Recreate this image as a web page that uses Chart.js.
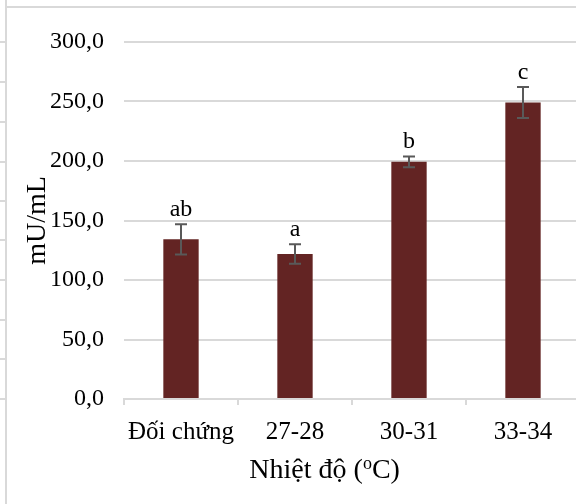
<!DOCTYPE html>
<html>
<head>
<meta charset="utf-8">
<script src="https://cdn.jsdelivr.net/npm/chart.js@4.4.1/dist/chart.umd.min.js"></script>
<style>
  html, body { margin: 0; padding: 0; background: #fff; overflow: hidden; }
  #wrap { position: relative; width: 576px; height: 504px; overflow: hidden; }
  #frameLeft { position: absolute; left: 5px; top: 0; width: 2px; height: 504px; background: #d9d9d9; }
  #frameTop { position: absolute; left: 5px; top: 6px; width: 571px; height: 2px; background: #d9d9d9; }
  .stub { position: absolute; left: 0; width: 5px; height: 2px; background: #d9d9d9; }
  canvas { position: absolute; left: 0; top: 0; }
</style>
</head>
<body>
<div id="wrap">
  <div id="frameLeft"></div>
  <div id="frameTop"></div>
  <canvas id="chart" width="582" height="504"></canvas>
</div>
<script>
// data
const categories = ["Đối chứng", "27-28", "30-31", "33-34"];
const activity = [134.2, 121.8, 199.3, 249.2];   // mU/mL
const stdError = [12.7, 8.2, 4.5, 13.0];
const groupLetters = ["ab", "a", "b", "c"];
const yMin = 0;
const yMax = 300;
const yStep = 50;

const serif = "'Liberation Serif', 'Times New Roman', serif";

// the little row marks on the left of the sheet frame
const stubRows = [41, 81, 121, 161, 200, 239, 279, 319, 358, 398];
stubRows.forEach((top) => {
  const d = document.createElement("div");
  d.className = "stub";
  d.style.top = top + "px";
  document.getElementById("wrap").appendChild(d);
});

// error bars + significance letters
const errorBarPlugin = {
  id: "errorBars",
  afterDatasetsDraw(chart) {
    const { ctx, scales: { x, y } } = chart;
    ctx.save();
    ctx.strokeStyle = "#595959";
    ctx.lineWidth = 2;
    activity.forEach((v, i) => {
      const px = Math.round(x.getPixelForValue(i));
      const top = y.getPixelForValue(v + stdError[i]);
      const bot = y.getPixelForValue(v - stdError[i]);
      ctx.beginPath();
      ctx.moveTo(px, top);
      ctx.lineTo(px, bot);
      ctx.moveTo(px - 6, top);
      ctx.lineTo(px + 6, top);
      ctx.moveTo(px - 6, bot);
      ctx.lineTo(px + 6, bot);
      ctx.stroke();

      ctx.fillStyle = "#000";
      ctx.font = "24px " + serif;
      ctx.textAlign = "center";
      ctx.textBaseline = "alphabetic";
      ctx.fillText(groupLetters[i], px, top - 8);
    });
    ctx.restore();
  },
};

// x axis title with a raised "o"
const xTitlePlugin = {
  id: "xTitle",
  afterDraw(chart) {
    const { ctx, scales: { x } } = chart;
    const big = "28px " + serif;
    const small = "18px " + serif;
    const partA = "Nhiệt độ (";
    const partB = "o";
    const partC = "C)";
    ctx.save();
    ctx.fillStyle = "#000";
    ctx.textBaseline = "alphabetic";
    ctx.textAlign = "left";
    ctx.font = big;
    const wA = ctx.measureText(partA).width;
    const wC = ctx.measureText(partC).width;
    ctx.font = small;
    const wB = ctx.measureText(partB).width;
    const total = wA + wB + wC;
    const cx = x.left + (x.right - x.left) * 0.44;
    const baseY = 478;
    let px = cx - total / 2;
    ctx.font = big;
    ctx.fillText(partA, px, baseY);
    px += wA;
    ctx.font = small;
    ctx.fillText(partB, px, baseY - 9);
    px += wB;
    ctx.font = big;
    ctx.fillText(partC, px, baseY);
    ctx.restore();
  },
};

new Chart(document.getElementById("chart"), {
  type: "bar",
  data: {
    labels: categories,
    datasets: [
      {
        data: activity,
        backgroundColor: "#632423",
        borderWidth: 0,
        categoryPercentage: 1,
        barPercentage: 0.31,
      },
    ],
  },
  options: {
    responsive: false,
    animation: false,
    layout: { padding: { top: 42, right: 2, bottom: 0, left: 0 } },
    plugins: { legend: { display: false }, tooltip: { enabled: false } },
    scales: {
      x: {
        grid: {
          display: true,
          drawOnChartArea: false,
          drawTicks: true,
          tickLength: 6,
          color: "#d9d9d9",
          lineWidth: 2,
        },
        border: { display: true, color: "#d9d9d9", width: 2 },
        ticks: { color: "#000", font: { family: serif, size: 25 }, padding: 12 },
        afterFit(scale) {
          scale.height = 105;
        },
      },
      y: {
        min: yMin,
        max: yMax,
        ticks: {
          stepSize: yStep,
          color: "#000",
          font: { family: serif, size: 24 },
          padding: 20,
          callback: (v) => v.toFixed(1).replace(".", ","),
        },
        grid: { color: "#d9d9d9", lineWidth: 2, drawTicks: false },
        border: { display: false },
        title: {
          display: true,
          text: "mU/mL",
          color: "#000",
          font: { family: serif, size: 28 },
          padding: { top: 21, bottom: 0 },
        },
        afterFit(scale) {
          scale.width = 124;
        },
      },
    },
  },
  plugins: [errorBarPlugin, xTitlePlugin],
});
</script>
</body>
</html>
